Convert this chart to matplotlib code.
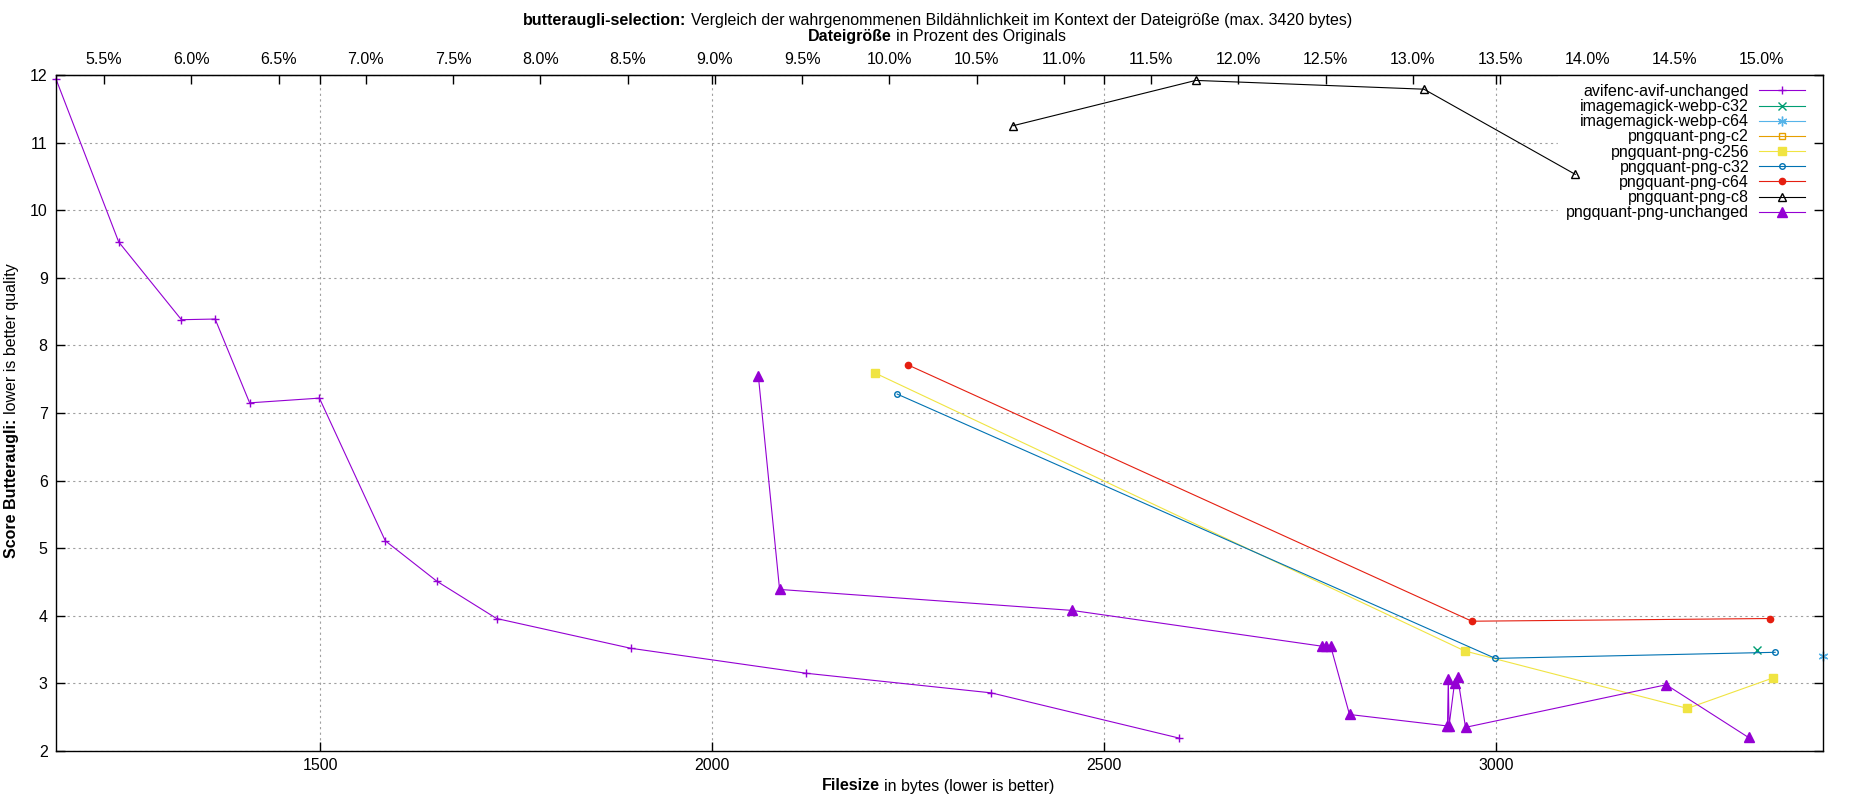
import numpy as np
import matplotlib
matplotlib.use('Agg')
import matplotlib.pyplot as plt
from matplotlib.text import Annotation
from matplotlib.ticker import FuncFormatter

plt.rcParams['font.family'] = ['Liberation Sans', 'DejaVu Sans']
plt.rcParams['font.size'] = 11.5

# original file size in bytes (for the percent axis on top)
ORIG_SIZE = 22260

# data: filesize in bytes vs butteraugli score
avif_x = [1163, 1243, 1323, 1366, 1410, 1499, 1583, 1649, 1725, 1896, 2120, 2356, 2596]
avif_y = [11.94, 9.53, 8.38, 8.39, 7.15, 7.22, 5.11, 4.51, 3.96, 3.52, 3.15, 2.86, 2.19]

webp_c32_x = [3333]
webp_c32_y = [3.49]

webp_c64_x = [3417]
webp_c64_y = [3.40]

c2_x = []
c2_y = []

c256_x = [2208, 2960, 3244, 3353]
c256_y = [7.59, 3.48, 2.63, 3.08]

c32_x = [2236, 2999, 3356]
c32_y = [7.28, 3.37, 3.46]

c64_x = [2250, 2969, 3350]
c64_y = [7.71, 3.92, 3.96]

c8_x = [2384, 2617, 2908, 3101]
c8_y = [11.25, 11.92, 11.79, 10.53]

unch_x = [2059, 2086, 2459, 2778, 2783, 2789, 2813, 2938, 2939, 2940, 2947, 2951, 2961, 3217, 3322]
unch_y = [7.54, 4.39, 4.08, 3.55, 3.55, 3.55, 2.54, 2.37, 3.06, 2.37, 3.01, 3.09, 2.35, 2.98, 2.20]

x_ticks = [1500, 2000, 2500, 3000]
y_ticks = [2, 3, 4, 5, 6, 7, 8, 9, 10, 11, 12]
pct_ticks = np.arange(5.5, 15.01, 0.5)

W, H = 1850, 800
fig = plt.figure(figsize=(W / 100, H / 100), dpi=100)
ax = fig.add_axes([56 / W, 1 - 751 / H, (1823 - 56) / W, (751 - 75) / H])

series = [
    (avif_x, avif_y, 'avifenc-avif-unchanged', '#9400d3', '+', 6, 'none'),
    (webp_c32_x, webp_c32_y, 'imagemagick-webp-c32', '#009e73', 'x', 6, 'none'),
    (webp_c64_x, webp_c64_y, 'imagemagick-webp-c64', '#56b4e9', (6, 2, 0), 7, 'none'),
    (c2_x, c2_y, 'pngquant-png-c2', '#e69f00', 's', 5, 'none'),
    (c256_x, c256_y, 'pngquant-png-c256', '#f0e442', 's', 5.5, None),
    (c32_x, c32_y, 'pngquant-png-c32', '#0072b2', 'o', 4, 'none'),
    (c64_x, c64_y, 'pngquant-png-c64', '#e51e10', 'o', 4.5, None),
    (c8_x, c8_y, 'pngquant-png-c8', '#000000', '^', 6, 'none'),
    (unch_x, unch_y, 'pngquant-png-unchanged', '#9400d3', '^', 6.5, None),
]

for xs, ys, name, col, mk, ms, mfc in series:
    kw = dict(color=col, marker=mk, markersize=ms, linewidth=0.8, label=name,
              markeredgewidth=1.0, clip_on=False)
    if mfc == 'none':
        kw['markerfacecolor'] = 'none'
    ax.plot(xs, ys, **kw)

all_x = avif_x + webp_c32_x + webp_c64_x + c256_x + c32_x + c64_x + c8_x + unch_x
ax.set_xlim(min(all_x), max(all_x))
ax.set_ylim(2, 12)
ax.set_xticks(x_ticks)
ax.set_yticks(y_ticks)
ax.set_axisbelow(True)
ax.grid(True, color='#a0a0a0', linestyle=(0, (2, 3)), linewidth=0.8)
ax.tick_params(direction='in', length=6.5, width=1, top=True, right=True, pad=6)
ax.tick_params(axis='x', pad=5)
for sp in ax.spines.values():
    sp.set_linewidth(1)

# percent axis on top
sec = ax.secondary_xaxis('top', functions=(lambda b: b / ORIG_SIZE * 100,
                                           lambda p: p * ORIG_SIZE / 100))
sec.set_xticks(pct_ticks)
sec.xaxis.set_major_formatter(FuncFormatter(lambda v, _: f'{v:.1f}%'))
sec.tick_params(direction='in', length=6.5, width=1, pad=6)

leg = ax.legend(loc='upper right', bbox_to_anchor=(1813 / W, 1 - 76 / H),
                bbox_transform=fig.transFigure, markerfirst=False, frameon=True,
                fancybox=False, edgecolor='white', facecolor='white', framealpha=1,
                handlelength=2.9, handletextpad=0.6, labelspacing=0.01,
                borderpad=0.5, borderaxespad=0)
leg.set_zorder(1.5)


def two_part(x, y, bold, rest, rotation=0):
    # bold lead-in followed by normal text, like gnuplot's enhanced labels
    if rotation == 0:
        t = fig.text(x, y, bold, weight='bold', ha='left', va='center')
        a = Annotation(rest, xy=(1, 0.5), xycoords=t, xytext=(3.2, 0),
                       textcoords='offset points', ha='left', va='center')
    else:
        t = fig.text(x, y, bold, weight='bold', ha='center', va='bottom', rotation=90)
        a = Annotation(rest, xy=(0.5, 1), xycoords=t, xytext=(0, 3.2),
                       textcoords='offset points', ha='center', va='bottom', rotation=90)
    fig.add_artist(a)


two_part(523 / W, 1 - 21 / H, 'butteraugli-selection:',
         'Vergleich der wahrgenommenen Bildähnlichkeit im Kontext der Dateigröße (max. 3420 bytes)')
two_part(808 / W, 1 - 37 / H, 'Dateigröße', 'in Prozent des Originals')
two_part(822 / W, 1 - 786 / H, 'Filesize', 'in bytes (lower is better)')
two_part(12 / W, 1 - 558 / H, 'Score Butteraugli:', 'lower is better quality', rotation=90)

fig.savefig('out.png', dpi=100)
